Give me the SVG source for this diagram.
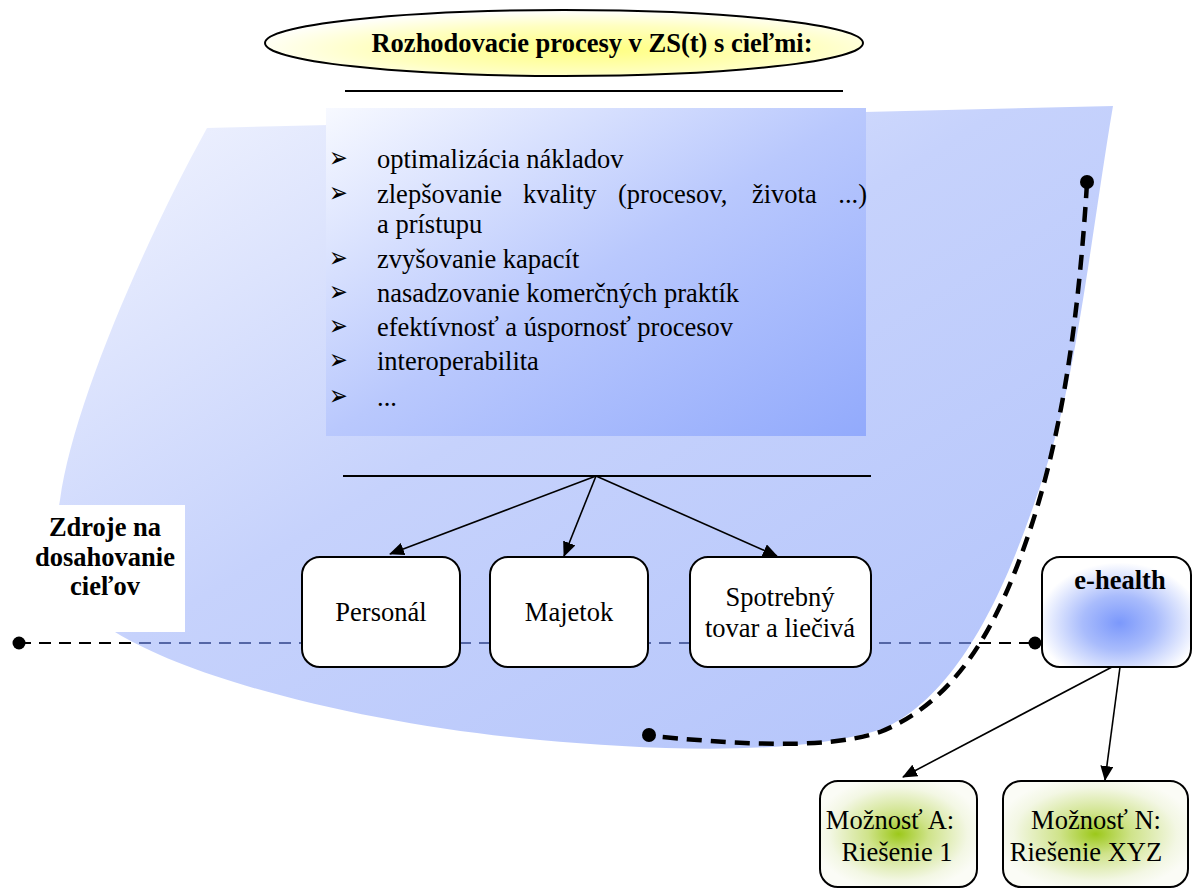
<svg xmlns="http://www.w3.org/2000/svg" width="1192" height="888" viewBox="0 0 1192 888">
<defs>
<style>
.t{font-family:"Liberation Serif","Times New Roman",serif;font-size:26.5px;fill:#000}
.b{font-weight:bold}
.m{text-anchor:middle}
.bul{font-family:"DejaVu Sans",sans-serif;font-size:28px;fill:#000}
.box{fill:#fff;stroke:#000;stroke-width:2}
.arr{stroke:#000;stroke-width:1.6;fill:none;marker-end:url(#ah)}
</style>
<linearGradient id="gBlob" x1="0" y1="0" x2="1" y2="1">
<stop offset="0" stop-color="#f3f5fe"/>
<stop offset="0.45" stop-color="#c6d2fc"/>
<stop offset="1" stop-color="#b2c3fb"/>
</linearGradient>
<linearGradient id="gList" x1="0" y1="0" x2="1" y2="1">
<stop offset="0" stop-color="#f7f9ff"/>
<stop offset="0.5" stop-color="#b9c8fd"/>
<stop offset="1" stop-color="#92aafc"/>
</linearGradient>
<radialGradient id="gTitle" cx="0.55" cy="0.6" r="0.6">
<stop offset="0" stop-color="#ffff80"/>
<stop offset="0.6" stop-color="#ffffc0"/>
<stop offset="1" stop-color="#ffffff"/>
</radialGradient>
<radialGradient id="gE" cx="0.52" cy="0.6" r="0.55">
<stop offset="0" stop-color="#7b98fb"/>
<stop offset="0.45" stop-color="#a9bcfc"/>
<stop offset="1" stop-color="#ffffff"/>
</radialGradient>
<radialGradient id="gG" cx="0.5" cy="0.5" r="0.55">
<stop offset="0" stop-color="#9cc81a"/>
<stop offset="0.35" stop-color="#cfe38a"/>
<stop offset="0.8" stop-color="#f3f7e4"/>
<stop offset="1" stop-color="#fbfcf6"/>
</radialGradient>
<clipPath id="blobClip">
<path d="M207,128 L1113,106 C1092,230 1076,380 1046,468 C1012,575 965,690 885,728 C800,757 650,750 540,740 C380,726 200,684 115,632 C62,600 50,552 60,500 C72,410 140,250 207,128 Z"/>
</clipPath>
<marker id="ah" viewBox="0 0 15 13" refX="14" refY="6.5" markerWidth="15" markerHeight="13" markerUnits="userSpaceOnUse" orient="auto">
<path d="M0,0 L15,6.5 L0,13 Z" fill="#000"/>
</marker>
</defs>

<g id="blob">
<path d="M207,128 L1113,106 C1092,230 1076,380 1046,468 C1012,575 965,690 885,728 C800,757 650,750 540,740 C380,726 200,684 115,632 C62,600 50,552 60,500 C72,410 140,250 207,128 Z" fill="url(#gBlob)"/>
</g>

<g id="title">
<ellipse cx="564" cy="43" rx="299" ry="33" fill="url(#gTitle)" stroke="#000" stroke-width="2"/>
<text class="t b m" x="592" y="52">Rozhodovacie procesy v ZS(t) s cieľmi:</text>
</g>

<g id="goals">
<rect x="326" y="108" width="540" height="328" fill="url(#gList)"/>
<g class="bul">
<text transform="translate(329,166.5) scale(0.8,1)">➢</text>
<text transform="translate(329,201.5) scale(0.8,1)">➢</text>
<text transform="translate(329,266.5) scale(0.8,1)">➢</text>
<text transform="translate(329,300.5) scale(0.8,1)">➢</text>
<text transform="translate(329,334.5) scale(0.8,1)">➢</text>
<text transform="translate(329,368.5) scale(0.8,1)">➢</text>
<text transform="translate(329,404.5) scale(0.8,1)">➢</text>
</g>
<text class="t" x="377" y="168">optimalizácia nákladov</text>
<text class="t" x="377" y="203">zlepšovanie</text>
<text class="t" x="523" y="203">kvality</text>
<text class="t" x="618" y="203">(procesov,</text>
<text class="t" x="752" y="203">života</text>
<text class="t" x="867" y="203" text-anchor="end">...)</text>
<text class="t" x="377" y="233">a prístupu</text>
<text class="t" x="377" y="268">zvyšovanie kapacít</text>
<text class="t" x="377" y="302">nasadzovanie komerčných praktík</text>
<text class="t" x="377" y="336">efektívnosť a úspornosť procesov</text>
<text class="t" x="377" y="370">interoperabilita</text>
<text class="t" x="377" y="406">...</text>
</g>

<g id="zdroje">
<rect x="0" y="505" width="185" height="127" fill="#fff"/>
<text class="t b m" x="105" y="536">Zdroje na</text>
<text class="t b m" x="105" y="566">dosahovanie</text>
<text class="t b m" x="105" y="595">cieľov</text>
</g>

<g id="connectors">
<line x1="345" y1="91" x2="843" y2="91" stroke="#000" stroke-width="2"/>
<line x1="343" y1="476" x2="871" y2="476" stroke="#000" stroke-width="2"/>
<line x1="596" y1="476" x2="390" y2="554" class="arr"/>
<line x1="596" y1="476" x2="564" y2="556" class="arr"/>
<line x1="596" y1="476" x2="777" y2="556" class="arr"/>
<line x1="19" y1="643" x2="1035" y2="643" stroke="#000" stroke-width="2" stroke-dasharray="12,8"/>
<line x1="19" y1="643" x2="1035" y2="643" stroke="#5466a6" stroke-width="2" stroke-dasharray="12,8" clip-path="url(#blobClip)"/>
<circle cx="19" cy="643" r="6.5" fill="#000"/>
<circle cx="1035" cy="643" r="6.5" fill="#000"/>
<path d="M1087,183 C1078,330 1060,440 1030,530 C1000,620 960,700 880,732 C820,752 720,742 650,736" fill="none" stroke="#000" stroke-width="4.5" stroke-dasharray="15,9"/>
<circle cx="1087" cy="182" r="7" fill="#000"/>
<circle cx="649" cy="735" r="7" fill="#000"/>
<line x1="1112" y1="667" x2="903" y2="777" class="arr"/>
<line x1="1120" y1="667" x2="1105" y2="780" class="arr"/>
</g>

<g id="personal">
<rect class="box" x="302" y="557" width="158" height="110" rx="18"/>
<text class="t m" x="381" y="621">Personál</text>
</g>
<g id="majetok">
<rect class="box" x="490" y="557" width="158" height="110" rx="18"/>
<text class="t m" x="569" y="621">Majetok</text>
</g>
<g id="spotrebny">
<rect class="box" x="690" y="557" width="181" height="110" rx="18"/>
<text class="t m" x="780" y="606">Spotrebný</text>
<text class="t m" x="780" y="637">tovar a liečivá</text>
</g>
<g id="ehealth">
<rect x="1042" y="557" width="149" height="110" rx="18" fill="url(#gE)" stroke="#000" stroke-width="2"/>
<text class="t b m" x="1120" y="589">e-health</text>
</g>
<g id="moznostA">
<rect x="820" y="781" width="157" height="106" rx="18" fill="url(#gG)" stroke="#000" stroke-width="2"/>
<text class="t m" x="890" y="829">Možnosť A:</text>
<text class="t m" x="897" y="861">Riešenie 1</text>
</g>
<g id="moznostN">
<rect x="1003" y="781" width="185" height="106" rx="18" fill="url(#gG)" stroke="#000" stroke-width="2"/>
<text class="t m" x="1096" y="829">Možnosť N:</text>
<text class="t m" x="1086" y="861">Riešenie XYZ</text>
</g>
</svg>
